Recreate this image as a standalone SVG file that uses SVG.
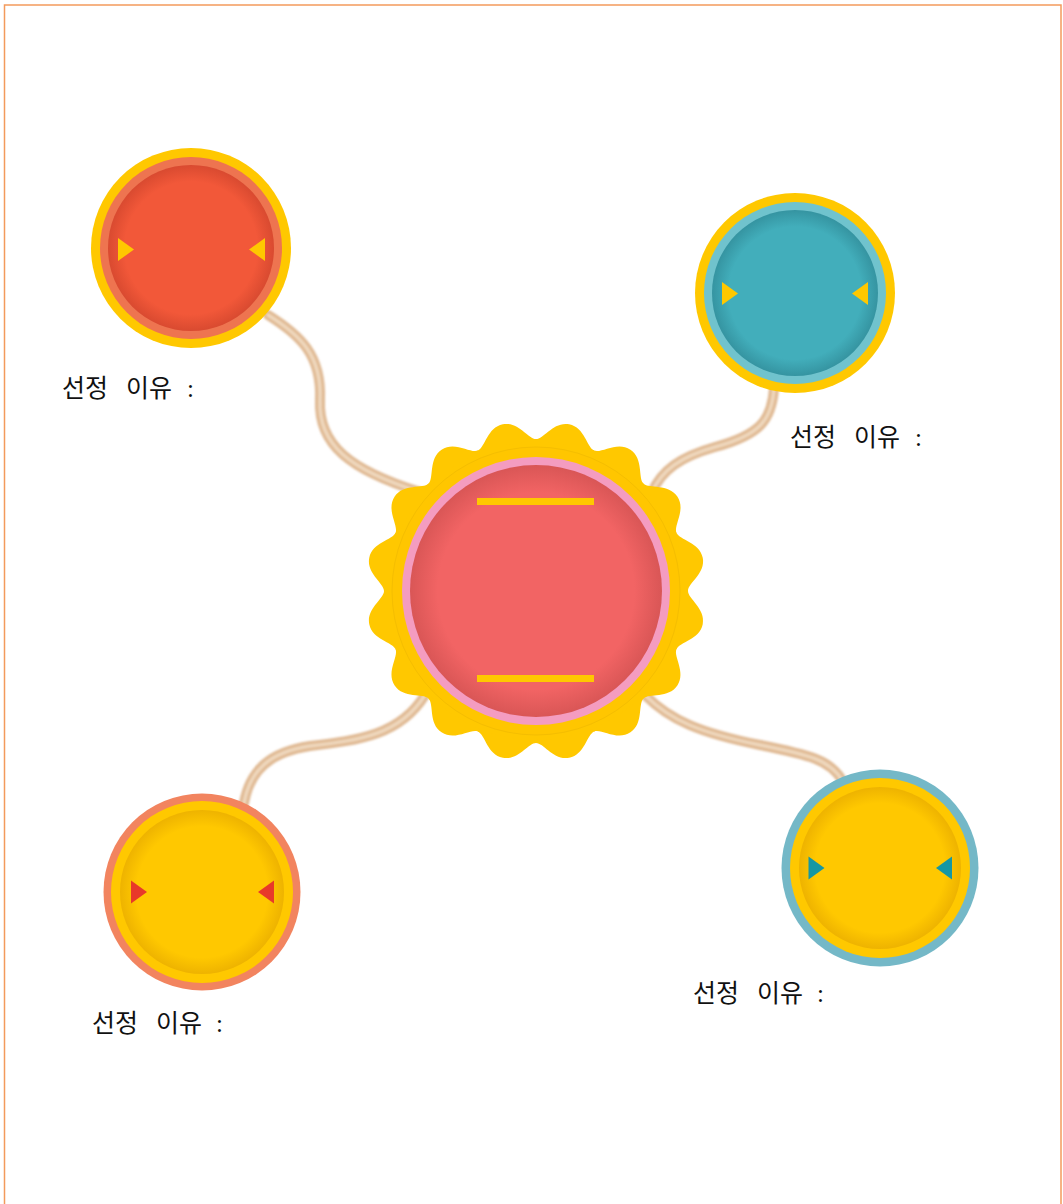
<svg xmlns="http://www.w3.org/2000/svg" xmlns:xlink="http://www.w3.org/1999/xlink" width="1063" height="1204" viewBox="0 0 1063 1204">
<style>
.lbl{font-family:"Liberation Serif","Noto Sans CJK KR",serif;font-size:25px;fill:#111;}
.cord{fill:none;stroke:#E0BA94;stroke-width:10;stroke-linecap:round;filter:url(#soft);}
.cordhi{fill:none;stroke:#EFD8BE;stroke-width:3.5;stroke-linecap:round;filter:url(#soft);}
.gold{fill:#FFC800;}
</style>
<defs>
<filter id="soft" x="-10%" y="-10%" width="120%" height="120%"><feGaussianBlur stdDeviation="1"/></filter>
<radialGradient id="gRed" cx="0.5" cy="0.5" r="0.5"><stop offset="0.8" stop-color="#F25839"/><stop offset="1" stop-color="#D94A30"/></radialGradient>
<radialGradient id="gTeal" cx="0.5" cy="0.5" r="0.5"><stop offset="0.8" stop-color="#42AEBB"/><stop offset="1" stop-color="#3594A1"/></radialGradient>
<radialGradient id="gYel" cx="0.5" cy="0.5" r="0.5"><stop offset="0.8" stop-color="#FFC800"/><stop offset="1" stop-color="#EEB300"/></radialGradient>
<radialGradient id="gCen" cx="0.5" cy="0.5" r="0.5"><stop offset="0.78" stop-color="#F26464"/><stop offset="1" stop-color="#D95656"/></radialGradient>
<path id="wedge" d="M0,0 L151.98,-2.65 A152,152 0 0 1 152,0 C152,8 169.85,17.48 166.73,33.17 C163.61,48.86 143.49,50.78 140.43,58.17 Z"/>
<path id="triR" d="M0,-11.5 L16,0 L0,11.5 Z"/>
<path id="triL" d="M0,-11.5 L-16,0 L0,11.5 Z"/>
</defs>
<rect width="1063" height="1204" fill="#FFFFFF"/>
<path d="M4.5,1204 V5 H1061 V1204" fill="none" stroke="#F39A5C" stroke-width="1.5"/>
<g id="connectors">
<path class="cord" d="M268,315 C300,335 322,355 320,400 C318,445 350,470 420,492"/>
<path class="cordhi" d="M268,315 C300,335 322,355 320,400 C318,445 350,470 420,492"/>
<path class="cord" d="M774,388 C772,420 760,435 715,447 C680,457 662,470 652,492"/>
<path class="cordhi" d="M774,388 C772,420 760,435 715,447 C680,457 662,470 652,492"/>
<path class="cord" d="M244,803 C250,770 270,752 310,746 C360,740 400,735 425,695"/>
<path class="cordhi" d="M244,803 C250,770 270,752 310,746 C360,740 400,735 425,695"/>
<path class="cord" d="M646,696 C670,720 700,733 760,745 C810,755 830,760 842,780"/>
<path class="cordhi" d="M646,696 C670,720 700,733 760,745 C810,755 830,760 842,780"/>
</g>
<g id="center">
<g transform="translate(536,591)" class="gold">
<use xlink:href="#wedge" transform="rotate(0)"/><use xlink:href="#wedge" transform="rotate(22.5)"/>
<use xlink:href="#wedge" transform="rotate(45)"/><use xlink:href="#wedge" transform="rotate(67.5)"/>
<use xlink:href="#wedge" transform="rotate(90)"/><use xlink:href="#wedge" transform="rotate(112.5)"/>
<use xlink:href="#wedge" transform="rotate(135)"/><use xlink:href="#wedge" transform="rotate(157.5)"/>
<use xlink:href="#wedge" transform="rotate(180)"/><use xlink:href="#wedge" transform="rotate(202.5)"/>
<use xlink:href="#wedge" transform="rotate(225)"/><use xlink:href="#wedge" transform="rotate(247.5)"/>
<use xlink:href="#wedge" transform="rotate(270)"/><use xlink:href="#wedge" transform="rotate(292.5)"/>
<use xlink:href="#wedge" transform="rotate(315)"/><use xlink:href="#wedge" transform="rotate(337.5)"/>
<circle r="149"/>
</g>
<circle cx="536" cy="591" r="144" fill="#FFC600" stroke="#F5BE00" stroke-width="1"/>
<circle cx="536" cy="591" r="134" fill="#F49CC0"/>
<circle cx="536" cy="591" r="126" fill="url(#gCen)"/>
<rect x="477" y="498" width="117" height="7" class="gold"/>
<rect x="477" y="675" width="117" height="7" class="gold"/>
</g>
<g id="node-tl">
<circle cx="191" cy="248" r="100" fill="#FFC800"/>
<circle cx="191" cy="248" r="91" fill="#EE7450"/>
<circle cx="191" cy="248" r="83" fill="url(#gRed)"/>
<use xlink:href="#triR" x="118" y="249.5" fill="#FFC800"/>
<use xlink:href="#triL" x="265" y="249.5" fill="#FFC800"/>
</g>
<g id="node-tr">
<circle cx="795" cy="293" r="100" fill="#FFC800"/>
<circle cx="795" cy="293" r="91" fill="#70C3CD"/>
<circle cx="795" cy="293" r="83" fill="url(#gTeal)"/>
<use xlink:href="#triR" x="722" y="293.5" fill="#FFC800"/>
<use xlink:href="#triL" x="868" y="293.5" fill="#FFC800"/>
</g>
<g id="node-bl">
<circle cx="202" cy="892" r="98.5" fill="#F2845F"/>
<circle cx="202" cy="892" r="91" fill="#FFC800"/>
<circle cx="202" cy="892" r="82" fill="url(#gYel)"/>
<use xlink:href="#triR" x="131" y="892" fill="#E8392A"/>
<use xlink:href="#triL" x="274" y="892" fill="#E8392A"/>
</g>
<g id="node-br">
<circle cx="880" cy="868" r="98.5" fill="#74B8C7"/>
<circle cx="880" cy="868" r="90" fill="#FFC800"/>
<circle cx="880" cy="868" r="81" fill="url(#gYel)"/>
<use xlink:href="#triR" x="808.5" y="868" fill="#1597A4"/>
<use xlink:href="#triL" x="952" y="868" fill="#1597A4"/>
</g>
<g id="labels">
<text class="lbl" y="397"><tspan x="62">선정</tspan><tspan x="126">이유</tspan><tspan x="187">:</tspan></text>
<text class="lbl" y="446"><tspan x="790">선정</tspan><tspan x="854">이유</tspan><tspan x="915">:</tspan></text>
<text class="lbl" y="1032"><tspan x="92">선정</tspan><tspan x="156">이유</tspan><tspan x="216">:</tspan></text>
<text class="lbl" y="1002"><tspan x="693">선정</tspan><tspan x="757">이유</tspan><tspan x="817">:</tspan></text>
</g>
</svg>
